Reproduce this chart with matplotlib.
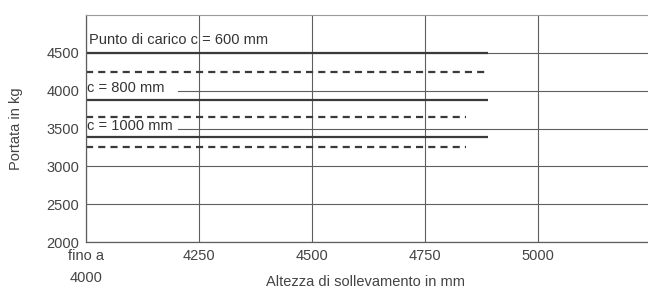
import matplotlib
matplotlib.use("Agg")
import matplotlib.pyplot as plt

# capacity lines: (y value, x end) per load centre
solid_vals = [4500, 3880, 3390]
solid_ends = [4890, 4890, 4890]
dashed_vals = [4250, 3650, 3250]
dashed_ends = [4890, 4840, 4840]
x_start = 4000

x_ticks = [4000, 4250, 4500, 4750, 5000]
x_ticklabels = ["fino a\n4000", "4250", "4500", "4750", "5000"]
y_ticks = [2000, 2500, 3000, 3500, 4000, 4500]

labels = ["Punto di carico c = 600 mm", "c = 800 mm", "c = 1000 mm"]
label_pos = [(4007, 4667), (4002, 4035), (4002, 3535)]
label_gap = ["", "   ", " "]  # white gap cut into the gridline after the text

plt.rcParams["font.family"] = ["Liberation Sans", "DejaVu Sans"]
plt.rcParams["font.size"] = 10.5

fig = plt.figure(figsize=(6.48, 2.89), dpi=100)
ax = fig.add_axes([86 / 648, 47 / 289, 1 - 86 / 648, (242 - 15) / 289])

ax.set_xlim(4000, 5243)
ax.set_ylim(2000, 5000)

grid_c = "#5e5e5e"
ax.set_xticks(x_ticks)
ax.set_xticklabels(x_ticklabels, linespacing=1.7, va="top", ha="center",
                   multialignment="center")
ax.set_yticks(y_ticks)
ax.tick_params(length=0, colors="#444444", pad=5)
ax.grid(True, color=grid_c, linewidth=0.8)
ax.set_axisbelow(True)

for s in ["left", "bottom"]:
    ax.spines[s].set_color(grid_c)
    ax.spines[s].set_linewidth(0.9)
ax.spines["top"].set_color("#9a9a9a")
ax.spines["right"].set_visible(False)
for s in ax.spines.values():
    s.set_zorder(5)

line_c = "#3a3a3a"
for v, e in zip(solid_vals, solid_ends):
    ax.plot([x_start, e], [v, v], color=line_c, linewidth=1.6, solid_capstyle="butt", zorder=3)
for v, e in zip(dashed_vals, dashed_ends):
    ax.plot([x_start, e], [v, v], color=line_c, linewidth=1.6, dashes=(3.2, 2.3), zorder=3)

for txt, (x, y), gap in zip(labels, label_pos, label_gap):
    kw = {}
    if gap:
        kw["bbox"] = dict(facecolor="white", edgecolor="none", pad=0.5)
    ax.text(x, y, txt + gap, ha="left", va="center", color="#333333",
            zorder=2.8, clip_on=True, **kw)

ax.set_xlabel("Altezza di sollevamento in mm", color="#444444")
ax.set_ylabel("Portata in kg", color="#444444")
ax.xaxis.set_label_coords(0.497, -0.145)
ax.yaxis.set_label_coords(-0.112, 0.5)

fig.savefig("out.png", dpi=100)
